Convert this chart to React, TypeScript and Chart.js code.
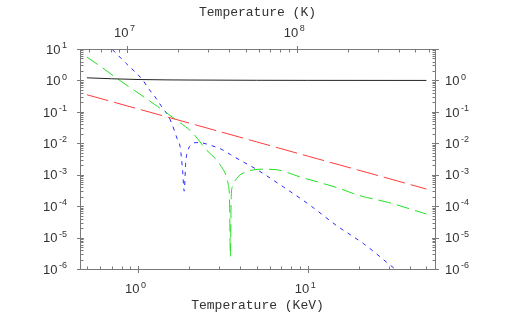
import React, { useEffect, useRef } from "react";
import { Chart, registerables } from "chart.js";

Chart.register(...registerables);

// ---- data ----
const KEV_TO_K = 1.16045e7;
const X_MIN = 0.455;
const X_MAX = 56.2;
const Y_MIN = 1e-6;
const Y_MAX = 10;

const blackT = [0.5, 0.7, 1, 1.5, 2, 5, 10, 50];
const blackV = [1.21, 1.13, 1.07, 1.04, 1.03, 1.01, 1.005, 1.0];

const redT = [0.5, 1, 2, 5, 10, 20, 50];
const redV = [0.35, 0.124, 0.044, 0.0111, 0.0039, 0.00139, 0.00035];

const greenT = [0.5, 0.6, 0.78, 1.0, 1.3, 1.72, 2.07, 2.54, 2.91, 3.1, 3.26, 3.4, 3.46, 3.5, 3.54, 3.6, 3.81, 4.17, 4.89, 5.5, 6.5, 7.5, 9, 12, 15.5, 20, 30, 50];
const greenV = [5.5, 2.8, 1.0, 0.4, 0.15, 0.05, 0.023, 6.0e-3, 2.9e-3, 1.8e-3, 1.1e-3, 4.8e-4, 1.6e-4, 2.5e-6, 2.0e-4, 4.2e-4, 7.6e-4, 1.14e-3, 1.45e-3, 1.5e-3, 1.45e-3, 1.2e-3, 8.5e-4, 5.5e-4, 3.6e-4, 2.2e-4, 1.3e-4, 5.6e-5];

const blueT = [0.5, 0.6, 0.7, 0.85, 1.07, 1.15, 1.26, 1.38, 1.5, 1.58, 1.7, 1.77, 1.83, 1.87, 1.91, 1.97, 2.05, 2.2, 2.4, 2.7, 3.04, 3.5, 3.99, 5.0, 7.18, 10.3, 14.8, 21.3, 32.7, 50];
const blueV = [62, 23, 10, 3.5, 1.0, 0.56, 0.3, 0.145, 0.078, 0.043, 0.014, 7.7e-3, 1.4e-3, 3e-4, 2.5e-3, 6e-3, 9e-3, 0.0105, 0.0102, 8.5e-3, 6.8e-3, 4.4e-3, 2.9e-3, 1.47e-3, 4.1e-4, 1.07e-4, 2.4e-5, 6.4e-6, 1.0e-6, 1.8e-7];

// tick labels
const leftExps = [-6, -5, -4, -3, -2, -1, 0, 1];
const rightExps = [-6, -5, -4, -3, -2, -1, 0];
const bottomExps = [0, 1];
const topExps = [7, 8];

const bottomTitle = "Temperature (KeV)";
const topTitle = "Temperature (K)";

const pts = (xs: number[], ys: number[]) => xs.map((x, i) => ({ x, y: ys[i] }));

const FRAME = "#7a7a7a";
const LABEL = "#333333";
const MAIN_FONT = '13px "Liberation Sans", Arial, sans-serif';
const SUP_FONT = '9px "Liberation Sans", Arial, sans-serif';
const TITLE_FONT = '13px "Liberation Mono", "Courier New", monospace';

function drawPow(ctx: CanvasRenderingContext2D, exp: number, x: number, baseline: number, align: "left" | "right" | "center") {
  const e = String(exp);
  ctx.font = MAIN_FONT;
  const w1 = ctx.measureText("10").width;
  ctx.font = SUP_FONT;
  const w2 = ctx.measureText(e).width;
  const gap = 1.5;
  const total = w1 + gap + w2;
  const sx = align === "left" ? x : align === "right" ? x - total : x - total / 2;
  ctx.textAlign = "left";
  ctx.textBaseline = "alphabetic";
  ctx.fillStyle = LABEL;
  ctx.font = MAIN_FONT;
  ctx.fillText("10", sx, baseline);
  ctx.font = SUP_FONT;
  ctx.fillText(e, sx + w1 + gap, baseline - 5.5);
}

const decorPlugin = {
  id: "decor",
  afterDraw(chart: any) {
    const ctx: CanvasRenderingContext2D = chart.ctx;
    const { left, right, top, bottom } = chart.chartArea;
    const xs = chart.scales.x;
    const ys = chart.scales.y;
    const xk = chart.scales.xk;
    ctx.save();
    ctx.strokeStyle = FRAME;
    ctx.lineWidth = 1;
    ctx.strokeRect(Math.round(left) + 0.5, Math.round(top) + 0.5, Math.round(right - left), Math.round(bottom - top));

    const line = (x1: number, y1: number, x2: number, y2: number) => {
      ctx.beginPath();
      ctx.moveTo(x1, y1);
      ctx.lineTo(x2, y2);
      ctx.stroke();
    };
    const L = Math.round(left) + 0.5;
    const R = Math.round(right) + 0.5;
    const T = Math.round(top) + 0.5;
    const B = Math.round(bottom) + 0.5;

    // y ticks (both sides)
    for (let e = -6; e <= 1; e++) {
      for (let m = 1; m <= 9; m++) {
        const v = m * Math.pow(10, e);
        if (v > Y_MAX * 1.0001 || v < Y_MIN * 0.9999) continue;
        const py = Math.round(ys.getPixelForValue(v)) + 0.5;
        if (m === 1) {
          line(L - 3.5, py, L + 3.5, py);
          line(R - 3.5, py, R + 3.5, py);
        } else {
          line(L, py, L + 3, py);
          line(R - 3, py, R, py);
        }
      }
    }
    // bottom ticks (keV)
    for (let e = -1; e <= 1; e++) {
      for (let m = 1; m <= 9; m++) {
        const v = m * Math.pow(10, e);
        if (v < X_MIN || v > X_MAX) continue;
        const px = Math.round(xs.getPixelForValue(v)) + 0.5;
        if (m === 1) line(px, B - 3.5, px, B + 3.5);
        else line(px, B - 3, px, B);
      }
    }
    // top ticks (K)
    for (let e = 6; e <= 8; e++) {
      for (let m = 1; m <= 9; m++) {
        const v = m * Math.pow(10, e);
        if (v < X_MIN * KEV_TO_K || v > X_MAX * KEV_TO_K) continue;
        const px = Math.round(xk.getPixelForValue(v)) + 0.5;
        if (m === 1) line(px, T - 3.5, px, T + 3.5);
        else line(px, T, px, T + 3);
      }
    }

    // labels
    leftExps.forEach((e) => {
      const py = ys.getPixelForValue(Math.pow(10, e));
      drawPow(ctx, e, left - 13, py + 4.7, "right");
    });
    rightExps.forEach((e) => {
      const py = ys.getPixelForValue(Math.pow(10, e));
      drawPow(ctx, e, right + 10, py + 4.7, "left");
    });
    bottomExps.forEach((e) => {
      const px = xs.getPixelForValue(Math.pow(10, e));
      drawPow(ctx, e, px - 2.5, bottom + 24, "center");
    });
    topExps.forEach((e) => {
      const px = xk.getPixelForValue(Math.pow(10, e));
      drawPow(ctx, e, px - 2.5, top - 12.3, "center");
    });

    // titles
    ctx.font = TITLE_FONT;
    ctx.fillStyle = LABEL;
    ctx.textAlign = "center";
    ctx.textBaseline = "alphabetic";
    const cx = (left + right) / 2;
    ctx.fillText(topTitle, cx, 16.3);
    ctx.fillText(bottomTitle, cx, 309);
    ctx.restore();
  },
};

export default function App() {
  const ref = useRef<HTMLCanvasElement | null>(null);
  useEffect(() => {
    if (!ref.current) return;
    const common = { pointRadius: 0, borderWidth: 1, fill: false };
    const chart = new Chart(ref.current, {
      type: "line",
      data: {
        datasets: [
          { ...common, label: "black", data: pts(blackT, blackV), borderColor: "#222222" },
          { ...common, label: "red", data: pts(redT, redV), borderColor: "#ff3b3b", borderDash: [22, 6] },
          { ...common, label: "green", data: pts(greenT, greenV), borderColor: "#22e022", borderDash: [13, 6], cubicInterpolationMode: "monotone" },
          { ...common, label: "blue", data: pts(blueT, blueV), borderColor: "#2828ff", borderDash: [4, 5], cubicInterpolationMode: "monotone" },
        ] as any,
      },
      options: {
        animation: false,
        responsive: true,
        maintainAspectRatio: false,
        layout: { padding: { left: 80, right: 79, top: 49, bottom: 49 } },
        plugins: { legend: { display: false }, tooltip: { enabled: false } },
        scales: {
          x: { type: "logarithmic", min: X_MIN, max: X_MAX, bounds: "data", display: false },
          xk: { type: "logarithmic", axis: "x", min: X_MIN * KEV_TO_K, max: X_MAX * KEV_TO_K, bounds: "data", display: false },
          y: { type: "logarithmic", min: Y_MIN, max: Y_MAX, bounds: "data", display: false },
        } as any,
      },
      plugins: [decorPlugin],
    });
    return () => chart.destroy();
  }, []);
  return (
    <div style={{ position: "fixed", left: 0, top: 0, width: 514, height: 318, background: "#fff" }}>
      <canvas ref={ref} />
    </div>
  );
}
